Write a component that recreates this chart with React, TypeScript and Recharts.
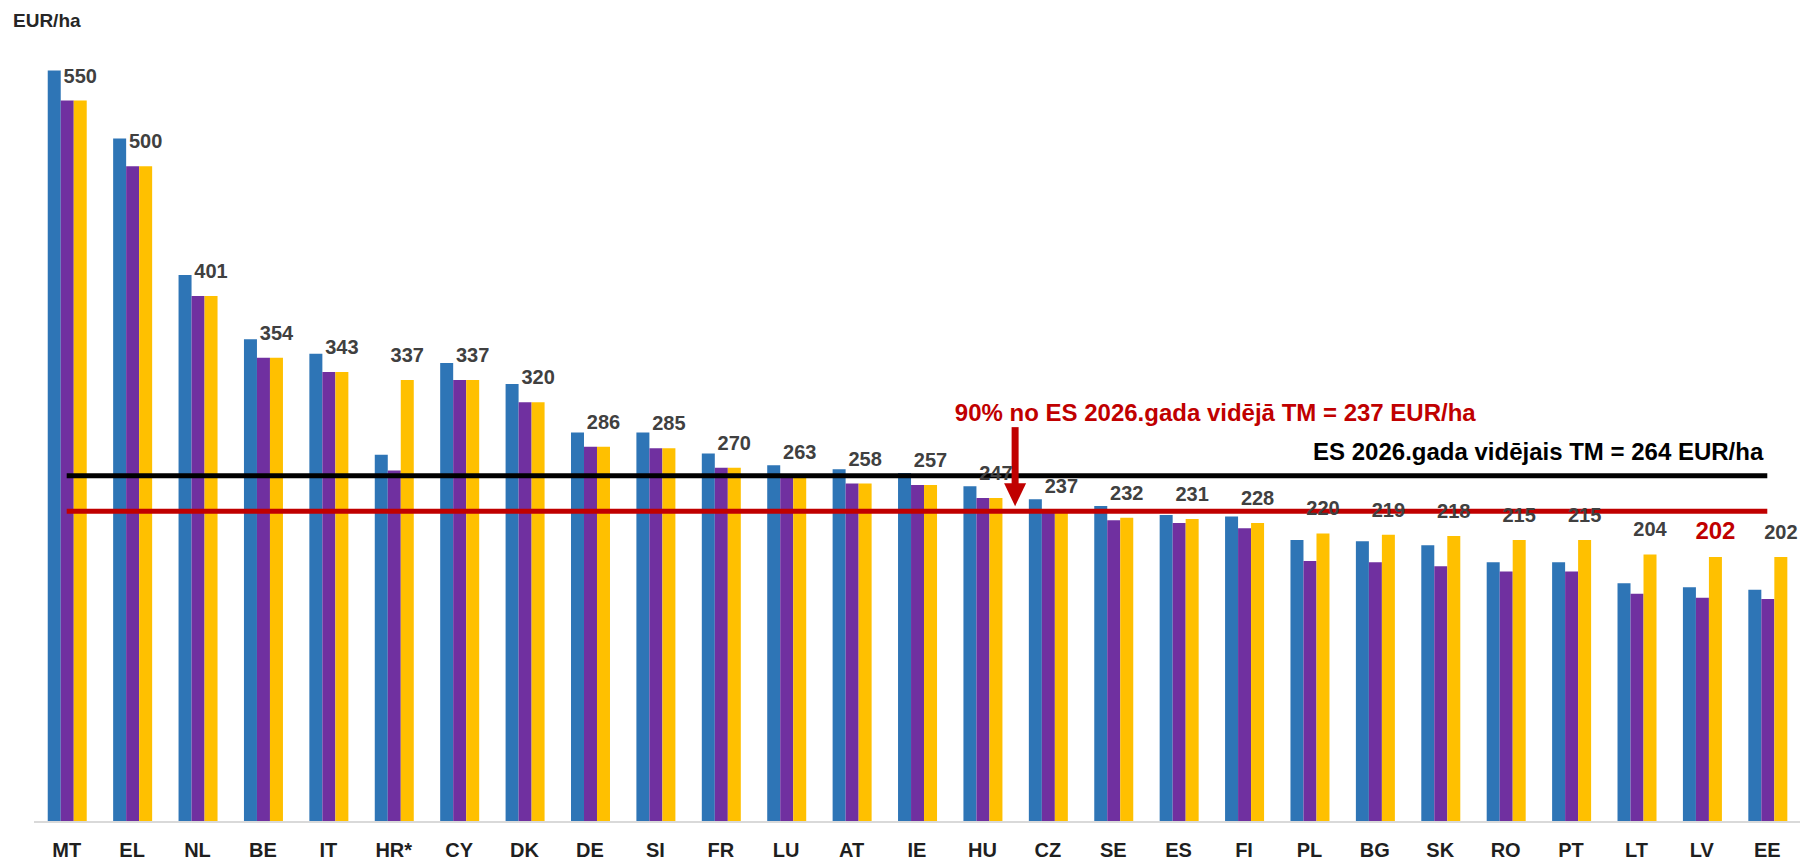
import { BarChart, Bar, XAxis, YAxis, ReferenceLine, LabelList } from 'recharts';

const countries = ['MT', 'EL', 'NL', 'BE', 'IT', 'HR*', 'CY', 'DK', 'DE', 'SI', 'FR', 'LU', 'AT', 'IE', 'HU', 'CZ', 'SE', 'ES', 'FI', 'PL', 'BG', 'SK', 'RO', 'PT', 'LT', 'LV', 'EE'];
const series1 = [573, 521, 417, 368, 357, 280, 350, 334, 297, 297, 281, 272, 269, 266, 256, 246, 241, 234, 233, 215, 214, 211, 198, 198, 182, 179, 177];
const series2 = [550, 500, 401, 354, 343, 268, 337, 320, 286, 285, 270, 263, 258, 257, 247, 237, 230, 228, 224, 199, 198, 195, 191, 191, 174, 171, 170];
const series3 = [550, 500, 401, 354, 343, 337, 337, 320, 286, 285, 270, 263, 258, 257, 247, 237, 232, 231, 228, 220, 219, 218, 215, 215, 204, 202, 202];

const euAverage = 264;
const euThreshold = 237;
const highlighted = 'LV';

const data = countries.map((country, i) => ({
  country,
  s1: series1[i],
  s2: series2[i],
  s3: series3[i],
}));

const FONT = '"Liberation Sans", Arial, sans-serif';
const RED = '#C00000';

function ValueLabel(props: any) {
  const { x, y, width, value, index } = props;
  const hl = countries[index] === highlighted;
  return (
    <text
      x={x + width / 2}
      y={y - 18}
      textAnchor="middle"
      fontFamily={FONT}
      fontWeight="bold"
      fontSize={hl ? 24 : 20}
      fill={hl ? RED : '#404040'}
    >
      {value}
    </text>
  );
}

function AverageLabel({ viewBox }: any) {
  const { x, y, width } = viewBox;
  return (
    <text x={x + width - 4} y={y - 16} textAnchor="end" fontFamily={FONT} fontWeight="bold" fontSize={24} fill="#000">
      {`ES 2026.gada vidējais TM = ${euAverage} EUR/ha`}
    </text>
  );
}

function ThresholdLabel({ viewBox }: any) {
  const { x, y, width } = viewBox;
  const band = width / (countries.length - 1);
  // arrow sits between HU and CZ
  const ax = x + 14.5 * band;
  return (
    <g>
      <text x={x + 17.56 * band} y={y - 90} textAnchor="middle" fontFamily={FONT} fontWeight="bold" fontSize={24} fill={RED}>
        {`90% no ES 2026.gada vidējā TM = ${euThreshold} EUR/ha`}
      </text>
      <line x1={ax} x2={ax} y1={y - 84} y2={y - 26} stroke={RED} strokeWidth={7} />
      <path d={`M${ax - 11},${y - 28} L${ax + 11},${y - 28} L${ax},${y - 5} Z`} fill={RED} />
    </g>
  );
}

export default function App() {
  return (
    <div style={{ position: 'absolute', left: 0, top: 0, width: 1800, height: 861, background: '#fff' }}>
      <div
        style={{
          position: 'absolute',
          left: 13,
          top: 10,
          fontFamily: FONT,
          fontWeight: 'bold',
          fontSize: 19,
          color: '#262626',
        }}
      >
        EUR/ha
      </div>
      <BarChart
        width={1800}
        height={861}
        data={data}
        margin={{ top: 35, right: 0, left: 34, bottom: 0 }}
        barCategoryGap="21%"
        barGap={0}
      >
        <XAxis
          dataKey="country"
          interval={0}
          height={39}
          tickLine={false}
          tickSize={0}
          tickMargin={21}
          axisLine={{ stroke: '#D9D9D9', strokeWidth: 2 }}
          tick={{ fontFamily: FONT, fontWeight: 'bold', fontSize: 20, fill: '#1F1F1F' }}
        />
        <YAxis hide domain={[0, 600]} />
        <Bar dataKey="s1" fill="#2E75B6" isAnimationActive={false} />
        <Bar dataKey="s2" fill="#7030A0" isAnimationActive={false} />
        <Bar dataKey="s3" fill="#FFC000" isAnimationActive={false}>
          <LabelList dataKey="s3" content={ValueLabel} />
        </Bar>
        <ReferenceLine
          segment={[{ x: 'MT', y: euAverage }, { x: 'EE', y: euAverage }]}
          stroke="#000"
          strokeWidth={5}
          label={AverageLabel}
        />
        <ReferenceLine
          segment={[{ x: 'MT', y: euThreshold }, { x: 'EE', y: euThreshold }]}
          stroke={RED}
          strokeWidth={5}
          label={ThresholdLabel}
        />
      </BarChart>
    </div>
  );
}
